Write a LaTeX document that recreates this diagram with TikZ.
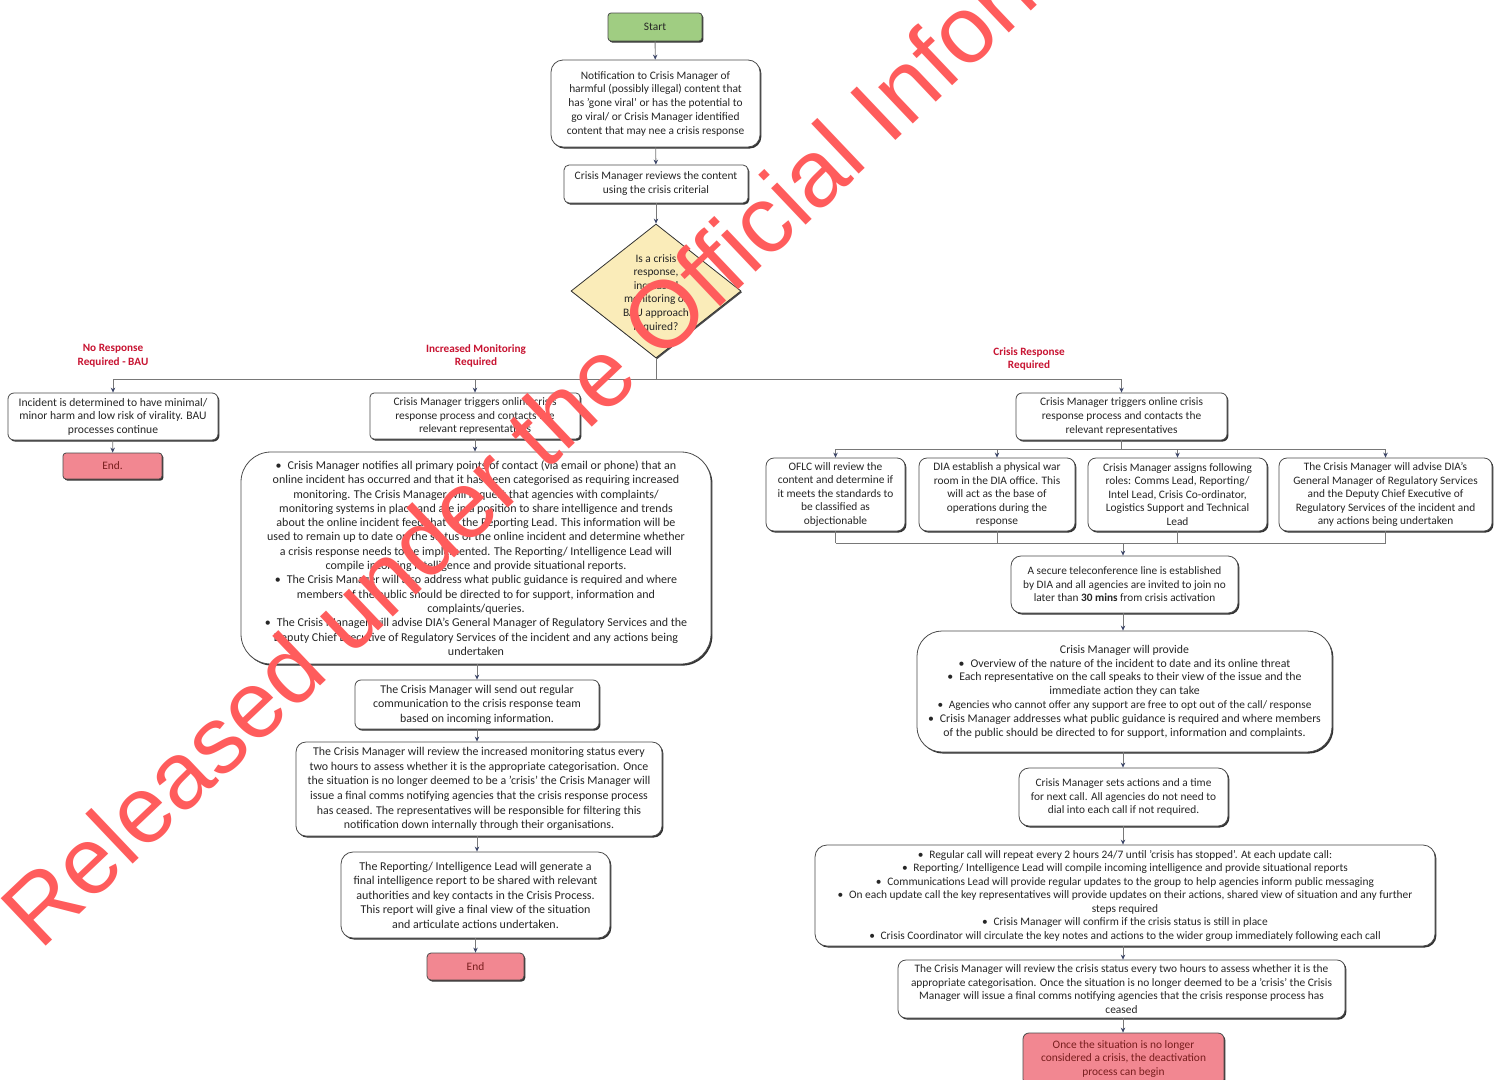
\documentclass[tikz,border=0pt]{standalone}
\usepackage{fontspec}
\setmainfont{Carlito}
\newfontfamily\wmfont{Liberation Sans}
\usetikzlibrary{shapes.geometric,arrows.meta,shadows}
\definecolor{startgreen}{RGB}{160,205,130}
\definecolor{endred}{RGB}{242,135,145}
\definecolor{diafill}{RGB}{250,236,185}
\definecolor{lblred}{RGB}{200,20,50}
\definecolor{wmred}{RGB}{255,92,92}
\definecolor{linegray}{RGB}{120,120,120}
\definecolor{tipblue}{RGB}{60,70,105}
\definecolor{endtext}{RGB}{120,30,30}
\begin{document}
\begin{tikzpicture}[x=1pt,y=-1pt,
  box/.style={rectangle, draw=black!70, line width=0.8pt, fill=white, rounded corners=#1,
    align=center, inner sep=0pt, text=black!85, font=\fontsize{11.4}{13.6}\selectfont,
    drop shadow={shadow xshift=1.4pt, shadow yshift=-1.6pt, fill=black!80, opacity=1}},
  box/.default=6pt,
  sz/.style 2 args={minimum width=#1pt, minimum height=#2pt},
  txt/.style={align=center, inner sep=0pt, text=black!85, font=\fontsize{11.4}{13.6}\selectfont},
  lbl/.style={align=center, inner sep=0pt, text=lblred, font=\bfseries\fontsize{11.2}{13.6}\selectfont},
  conn/.style={draw=linegray, line width=0.8pt},
  arr/.style={conn, -{Stealth[length=5pt,width=4.5pt,color=tipblue]}},
  wm/.style={inner sep=0pt, text=wmred, font=\wmfont\fontsize{95}{95}\selectfont}
]
\fill[white] (0,0) rectangle (1503,1079);
\useasboundingbox (0,0) rectangle (1503,1079);

% ---------- top ----------
\node[box=3pt, fill=startgreen, sz={94}{28}] (start) at (655,27) {Start};
\node[box=12pt, sz={209}{87}, font=\fontsize{11.4}{13.75}\selectfont] (notif) at (655.5,103.5)
 {Notification to Crisis Manager of\\harmful (possibly illegal) content that\\has 'gone viral' or has the potential to\\go viral/ or Crisis Manager identified\\content that may nee a crisis response};
\node[box=5pt, sz={184}{38}, font=\fontsize{11.4}{14}\selectfont] (review) at (656,184)
 {Crisis Manager reviews the content\\using the crisis criterial};
\node[diamond, draw=black!80, line width=0.8pt, fill=diafill, sz={170}{134}, inner sep=0pt,
  drop shadow={shadow xshift=1.2pt, shadow yshift=-1.2pt, fill=black!70, opacity=1}] (dia) at (656,291) {};
\node[txt] (diatext) at (656,293) {Is a crisis\\response,\\increased\\monitoring or\\BAU approach\\required?};

\draw[arr] (start) -- (notif);
\draw[arr] (notif) -- (review);
\draw[arr] (review) -- (dia);

% ---------- branch labels ----------
\node[lbl] (lblbau) at (113,356) {No Response\\Required - BAU};
\node[lbl] (lblmon) at (476,356) {Increased Monitoring\\Required};
\node[lbl] (lblcr) at (1029,359) {Crisis Response\\Required};

% ---------- left branch ----------
\node[box=6pt, sz={210}{47}, font=\fontsize{11.6}{13.6}\selectfont] (noresp) at (113,416.5)
 {Incident is determined to have minimal/\\minor harm and low risk of virality. BAU\\processes continue};
\node[box=3pt, fill=endred, sz={99}{26}, text=endtext] (end1) at (112.5,466) {End.};

% ---------- middle branch ----------
\node[box=4pt, sz={210}{46}] (mon1) at (475,416)
 {Crisis Manager triggers online crisis\\response process and contacts the\\relevant representatives};
\node[box=30pt, sz={470}{212}, font=\fontsize{12}{14.3}\selectfont] (mon2) at (476,558)
 {\textbullet\enspace Crisis Manager notifies all primary points of contact (via email or phone) that an\\
 online incident has occurred and that it has been categorised as requiring increased\\
 monitoring. The Crisis Manager will request that agencies with complaints/\\
 monitoring systems in place and are in a position to share intelligence and trends\\
 about the online incident feed that to the Reporting Lead. This information will be\\
 used to remain up to date on the status of the online incident and determine whether\\
 a crisis response needs to be implemented. The Reporting/ Intelligence Lead will\\
 compile incoming intelligence and provide situational reports.\\
 \textbullet\enspace The Crisis Manager will also address what public guidance is required and where\\
 members of the public should be directed to for support, information and\\
 complaints/queries.\\
 \textbullet\enspace The Crisis Manager will advise DIA's General Manager of Regulatory Services and the\\
 Deputy Chief Executive of Regulatory Services of the incident and any actions being\\
 undertaken};
\node[box=6pt, sz={244}{49}, font=\fontsize{11.9}{14.5}\selectfont] (mon3) at (477,704.5)
 {The Crisis Manager will send out regular\\communication to the crisis response team\\based on incoming information.};
\node[box=10pt, sz={366}{94}, font=\fontsize{11.9}{14.6}\selectfont] (mon4) at (479,789)
 {The Crisis Manager will review the increased monitoring status every\\two hours to assess whether it is the appropriate categorisation. Once\\the situation is no longer deemed to be a 'crisis' the Crisis Manager will\\issue a final comms notifying agencies that the crisis response process\\has ceased. The representatives will be responsible for filtering this\\notification down internally through their organisations.};
\node[box=12pt, sz={269}{86}, font=\fontsize{12}{14.5}\selectfont] (mon5) at (475.5,895)
 {The Reporting/ Intelligence Lead will generate a\\final intelligence report to be shared with relevant\\authorities and key contacts in the Crisis Process.\\This report will give a final view of the situation\\and articulate actions undertaken.};
\node[box=4pt, fill=endred, sz={97}{27}, text=endtext] (end2) at (475.5,966.5) {End};

% ---------- right branch ----------
\node[box=6pt, sz={211}{47}] (cr1) at (1121.5,416.5)
 {Crisis Manager triggers online crisis\\response process and contacts the\\relevant representatives};
\node[box=8pt, sz={139}{73}, font=\fontsize{11.4}{13.5}\selectfont] (r1) at (835.5,494.5)
 {OFLC will review the\\content and determine if\\it meets the standards to\\be classified as\\objectionable};
\node[box=8pt, sz={156}{73}, font=\fontsize{11.4}{13.5}\selectfont] (r2) at (997,494.5)
 {DIA establish a physical war\\room in the DIA office. This\\will act as the base of\\operations during the\\response};
\node[box=8pt, sz={179}{73}, font=\fontsize{11.4}{13.5}\selectfont] (r3) at (1177.5,494.5)
 {Crisis Manager assigns following\\roles: Comms Lead, Reporting/\\Intel Lead, Crisis Co-ordinator,\\Logistics Support and Technical\\Lead};
\node[box=8pt, sz={213}{73}, font=\fontsize{11.35}{13.5}\selectfont] (r4) at (1385.5,494.5)
 {The Crisis Manager will advise DIA's\\General Manager of Regulatory Services\\and the Deputy Chief Executive of\\Regulatory Services of the incident and\\any actions being undertaken};
\node[box=10pt, sz={227}{57}, font=\fontsize{11.3}{13.5}\selectfont] (tele) at (1124.5,584.5)
 {A secure teleconference line is established\\by DIA and all agencies are invited to join no\\later than \textbf{30 mins} from crisis activation};
\node[box=25pt, sz={415}{121}, font=\fontsize{11.8}{13.8}\selectfont] (prov) at (1124.5,691.5)
 {Crisis Manager will provide\\
 \textbullet\enspace Overview of the nature of the incident to date and its online threat\\
 \textbullet\enspace Each representative on the call speaks to their view of the issue and the\\
 immediate action they can take\\
 {\fontsize{11.3}{13.8}\selectfont\textbullet\enspace Agencies who cannot offer any support are free to opt out of the call/ response}\\
 \textbullet\enspace Crisis Manager addresses what public guidance is required and where members\\
 of the public should be directed to for support, information and complaints.};
\node[box=10pt, sz={209}{58}, font=\fontsize{11.35}{13.5}\selectfont] (sets) at (1123.5,797)
 {Crisis Manager sets actions and a time\\for next call. All agencies do not need to\\dial into each call if not required.};
\node[box=12pt, sz={620}{101}, font=\fontsize{11.4}{13.5}\selectfont] (regular) at (1125,895.5)
 {\textbullet\enspace Regular call will repeat every 2 hours 24/7 until 'crisis has stopped'. At each update call:\\
 \textbullet\enspace Reporting/ Intelligence Lead will compile incoming intelligence and provide situational reports\\
 \textbullet\enspace Communications Lead will provide regular updates to the group to help agencies inform public messaging\\
 \textbullet\enspace On each update call the key representatives will provide updates on their actions, shared view of situation and any further\\
 steps required\\
 \textbullet\enspace Crisis Manager will confirm if the crisis status is still in place\\
 \textbullet\enspace Crisis Coordinator will circulate the key notes and actions to the wider group immediately following each call};
\node[box=8pt, sz={447}{58}, font=\fontsize{11.4}{13.7}\selectfont] (review2) at (1121.5,989)
 {The Crisis Manager will review the crisis status every two hours to assess whether it is the\\appropriate categorisation. Once the situation is no longer deemed to be a 'crisis' the Crisis\\Manager will issue a final comms notifying agencies that the crisis response process has\\ceased};
\node[box=6pt, fill=endred, sz={201}{52}, text=endtext, font=\fontsize{11.4}{13.5}\selectfont] (final) at (1123.5,1059)
 {Once the situation is no longer\\considered a crisis, the deactivation\\process can begin};

% ---------- connectors ----------
\coordinate (busL) at (113,379);
\coordinate (busR) at (1121.5,379);
\draw[conn] (dia.south) -- (dia.south |- busL);
\draw[conn] (busL) -- (busR);
\draw[arr] (busL) -- (noresp.north);
\draw[arr] (busL -| mon1.north) -- (mon1.north);
\draw[arr] (busR) -- (cr1.north);
\draw[arr] (noresp) -- (end1);

\draw[arr] (mon1) -- (mon1 |- mon2.north);
\draw[arr] (mon2.south -| mon3) -- (mon3);
\draw[arr] (mon3.south) -- (mon3 |- mon4.north);
\draw[arr] (mon4.south -| mon3) -- (mon3 |- mon5.north);
\draw[arr] (mon5.south -| end2) -- (end2);

\coordinate (bus2) at (1121.5,449);
\draw[conn] (cr1) -- (bus2);
\draw[conn] (bus2 -| r1) -- (bus2 -| r4);
\draw[arr] (bus2 -| r1) -- (r1);
\draw[arr] (bus2 -| r2) -- (r2);
\draw[arr] (bus2 -| r3) -- (r3);
\draw[arr] (bus2 -| r4) -- (r4);
\coordinate (bus3) at (1123,543);
\draw[conn] (r1) -- (r1 |- bus3);
\draw[conn] (r2) -- (r2 |- bus3);
\draw[conn] (r3) -- (r3 |- bus3);
\draw[conn] (r4) -- (r4 |- bus3);
\draw[conn] (r1 |- bus3) -- (r4 |- bus3);
\draw[arr] (bus3) -- (bus3 |- tele.north);
\draw[arr] (tele.south -| bus3) -- (bus3 |- prov.north);
\draw[arr] (prov.south -| bus3) -- (bus3 |- sets.north);
\draw[arr] (sets.south -| bus3) -- (bus3 |- regular.north);
\draw[arr] (regular.south -| bus3) -- (bus3 |- review2.north);
\draw[arr] (review2.south -| bus3) -- (bus3 |- final.north);

% ---------- watermark ----------
\node[wm, rotate=43.5, anchor=base west] (wm) at (40,952) {Released under the Official Information Act};
\end{tikzpicture}
\end{document}
